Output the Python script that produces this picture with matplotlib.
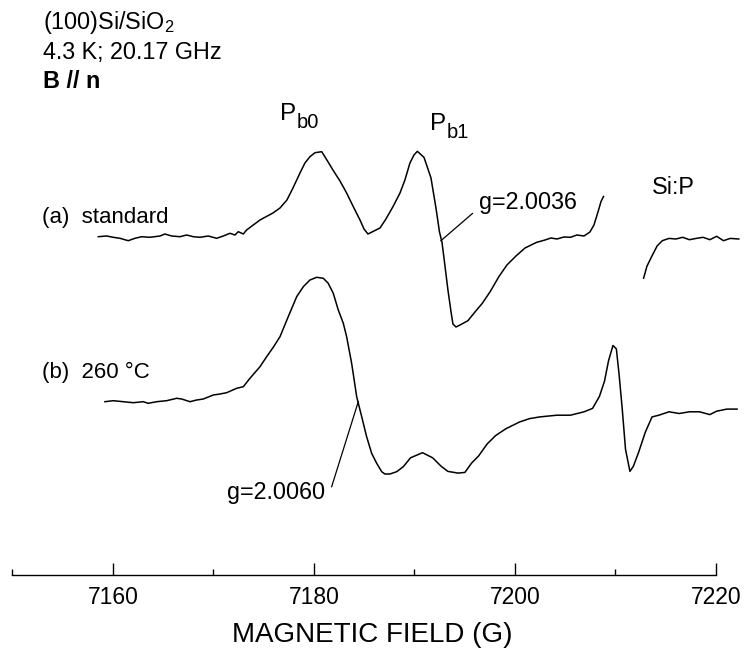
import numpy as np
import matplotlib.pyplot as plt

plt.rcParams['font.family'] = ['Liberation Sans', 'DejaVu Sans']
plt.rcParams['mathtext.default'] = 'regular'

# (a) standard: magnetic field (G) and ESR signal (a.u., baseline 0)
field_a1 = [7158.54, 7159.37, 7160.03, 7160.70, 7161.52, 7162.19, 7162.86, 7163.68, 7164.68,
            7165.17, 7165.84, 7166.67, 7167.33, 7167.99, 7168.66, 7169.48, 7170.32, 7170.98,
            7171.64, 7172.14, 7172.47, 7172.97, 7173.30, 7173.96, 7174.63, 7175.92, 7176.62,
            7177.31, 7177.91, 7178.61, 7179.10, 7179.60, 7180.10, 7180.77, 7181.29, 7181.89,
            7182.59, 7183.25, 7183.88, 7184.58, 7184.98, 7185.37, 7185.97, 7186.57, 7187.16,
            7187.86, 7188.56, 7189.05, 7189.55, 7189.95, 7190.29, 7190.95, 7191.64, 7192.14,
            7192.49, 7192.74, 7193.00, 7193.33, 7193.67, 7193.83, 7194.13, 7194.53, 7195.32,
            7196.02, 7196.72, 7197.51, 7198.41, 7199.20, 7200.10, 7201.00, 7202.14, 7202.99,
            7203.58, 7204.18, 7204.88, 7205.52, 7206.17, 7206.87, 7207.46, 7207.86, 7208.26,
            7208.56, 7208.81]
signal_a1 = [1.3, 2, 0.7, -0.3, -2.7, -0.3, 1.3, 0.7, 2, 4, 2, 1.3, 3, 1.3, 0.7, 2, -0.3, 2,
             4.7, 3, 6.3, 4, 8, 13, 18, 25, 30, 38, 50, 65, 75, 81.3, 85.3, 86.3, 78, 68,
             57, 45, 32, 18, 9, 4, 7, 10, 19, 31.3, 45, 58, 75, 83, 86.7, 80.6, 60.2, 30,
             6, -4.4, -25, -52, -76, -86, -89, -87, -82.7, -74, -65.7, -54, -38.5, -27, -18, -10,
             -4.4, -2, 0, -1, 1, 0.7, 3, 2, 6, 13, 26, 36.4, 41.5]
field_a2 = [7212.80, 7213.13, 7213.63, 7214.15, 7214.66, 7215.33, 7216.01, 7216.69, 7217.36,
            7218.04, 7218.72, 7219.39, 7220.07, 7220.75, 7221.42, 7222.27]
signal_a2 = [-40.2, -28.3, -18, -7.9, -2.7, -0.4, -1, 0.7, -1.7, -0.4, 0.7, -1.7, 1.7, -2.7,
             -0.4, -1]

# (b) 260 °C
field_b = [7159.20, 7160.03, 7161.03, 7162.02, 7163.01, 7163.51, 7164.35, 7165.34, 7166.34,
           7166.84, 7167.66, 7168.33, 7168.99, 7169.98, 7170.65, 7171.31, 7172.31, 7172.97,
           7173.63, 7174.63, 7175.29, 7175.95, 7176.62, 7177.44, 7178.28, 7178.94, 7179.60,
           7180.27, 7180.93, 7181.42, 7181.92, 7182.42, 7182.92, 7183.25, 7183.75, 7184.25,
           7184.75, 7185.24, 7185.74, 7186.24, 7186.74, 7187.06, 7187.56, 7188.23, 7188.89,
           7189.61, 7190.80, 7191.81, 7192.66, 7193.33, 7194.35, 7195.02, 7195.70, 7196.38,
           7197.22, 7198.07, 7199.09, 7200.45, 7201.46, 7202.48, 7204.17, 7205.52, 7206.88,
           7207.72, 7208.40, 7208.91, 7209.31, 7209.75, 7210.09, 7210.36, 7210.67, 7211.00,
           7211.44, 7211.78, 7212.29, 7212.97, 7213.64, 7214.32, 7215.33, 7216.35, 7217.36,
           7218.38, 7219.39, 7220.07, 7221.08, 7222.10]
signal_b = [0.3, 1.3, 0.3, -0.7, 0.3, -1.3, 0.3, 1.3, 3.7, 3, 0.3, 2, 3, 7, 8, 9.3, 13.7, 15.3,
            23.7, 35.3, 45.3, 54.7, 65.3, 85.3, 105.3, 115.3, 122, 124.7, 123.7, 118.7, 108.7,
            92, 78.7, 65.3, 38.7, 5.3, -14.7, -34.7, -51.3, -61.3, -69.7, -72, -72, -69.7,
            -64.7, -55.8, -50.7, -55.8, -64.3, -69.4, -71.1, -70.4, -60.9, -54, -42.1, -33.6,
            -26.8, -20, -16.6, -14.9, -13.2, -13.2, -9.8, -6.4, 5.5, 20.8, 41.2, 56.5, 53.1,
            27.6, -6.4, -47.3, -69.4, -64.3, -50.7, -30.2, -14.9, -13.2, -9.8, -11.5, -9.8,
            -9.8, -12.6, -9.2, -7.1, -7.1]

offset_a = 337
offset_b = 173

W, H = 744, 649
fig = plt.figure(figsize=(W / 100, H / 100), dpi=100)
ax = fig.add_axes([0, (H - 575) / H, 1, 575 / H])

ax.plot(field_a1, np.array(signal_a1) + offset_a, color='black', lw=1.1)
ax.plot(field_a2, np.array(signal_a2) + offset_a, color='black', lw=1.1)
ax.plot(field_b, np.array(signal_b) + offset_b, color='black', lw=1.1)

# g-value leader lines
ax.plot([7192.63, 7195.77], [334.3, 361.5], color='black', lw=0.9)
ax.plot([7184.41, 7181.76], [173.3, 88.3], color='black', lw=0.9)

ax.set_xlim(7148.76, 7222.79)
ax.set_ylim(0, 575)
for s in ['left', 'right', 'top']:
    ax.spines[s].set_visible(False)
ax.spines['bottom'].set_bounds(7150, 7220)
ax.spines['bottom'].set_linewidth(1.0)
ax.set_yticks([])
ax.set_xticks([7160, 7180, 7200, 7220])
ax.set_xticks([7150, 7170, 7190, 7210], minor=True)
ax.tick_params(axis='x', which='major', direction='in', length=9, width=1.0,
               labelsize=16.5, pad=8)
ax.tick_params(axis='x', which='minor', direction='in', length=4.5, width=1.0)
ax.set_xlabel('MAGNETIC FIELD (G)', fontsize=20, labelpad=9)

fs = 16.8
# centre labels: P with a large lowered subscript
for x0, y0, sub in [(7176.62, 455, 'b0'), (7191.54, 445, 'b1')]:
    ax.text(x0, y0, 'P', fontsize=17.5, ha='left', va='baseline')
    ax.annotate(sub, xy=(x0, y0), xycoords='data', xytext=(11.8, -5.5),
                textcoords='offset points', fontsize=14.5, ha='left', va='baseline')
ax.text(7215.8, 575 - 188, 'Si:P', fontsize=fs, ha='center', va='center')
ax.text(7196.4, 575 - 202, 'g=2.0036', fontsize=fs, ha='left', va='center')
ax.text(7181.1, 575 - 492, 'g=2.0060', fontsize=fs, ha='right', va='center')

fig.text(43 / W, 1 - 22 / H, '(100)Si/SiO$_2$', fontsize=fs, ha='left', va='center')
fig.text(43 / W, 1 - 53 / H, '4.3 K; 20.17 GHz', fontsize=fs, ha='left', va='center')
fig.text(43 / W, 1 - 82 / H, 'B // n', fontsize=fs, fontweight='bold', ha='left', va='center')
fig.text(42 / W, 1 - 217 / H, '(a)  standard', fontsize=16, ha='left', va='center')
fig.text(42 / W, 1 - 372 / H, '(b)  260 °C', fontsize=16, ha='left', va='center')

fig.savefig('out.png', dpi=100)
